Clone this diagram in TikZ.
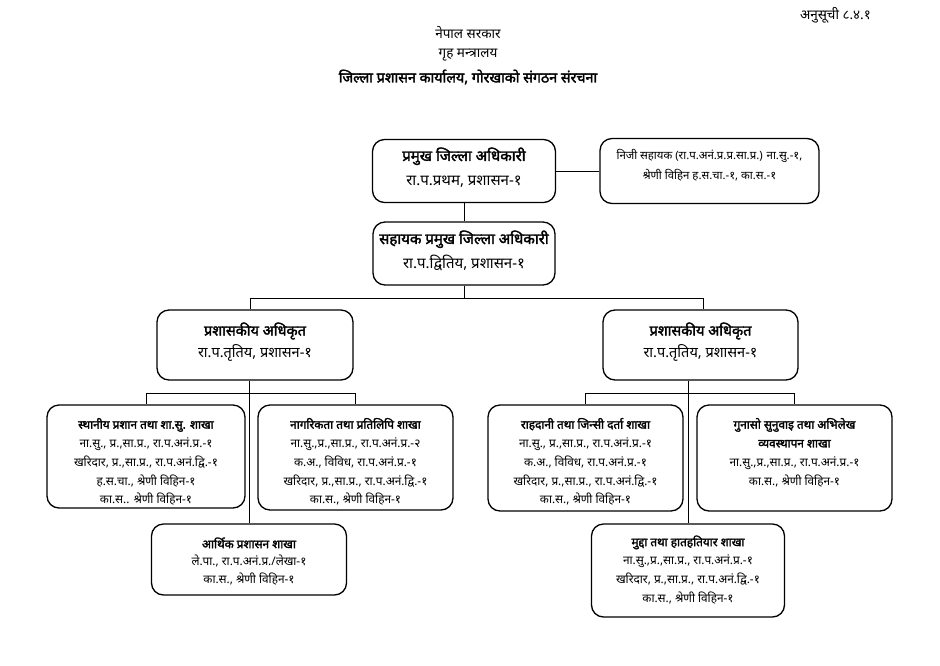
\documentclass[tikz,border=0pt]{standalone}
\usepackage{fontspec}
\newfontfamily\dev[Script=Devanagari, BoldFont=Noto Sans, BoldFeatures={FakeBold=2.2}]{Noto Sans}
\newcommand{\bb}[1]{{\bfseries #1}}
\begin{document}
\begin{tikzpicture}[x=1pt,y=-1pt,
  box/.style={draw, line width=1.3pt, rounded corners=12pt, inner sep=0pt},
  conn/.style={line width=0.9pt},
  txt/.style={anchor=north, align=center, inner sep=0pt},
  big/.style={font=\dev\fontsize{15}{25}\selectfont},
  mid/.style={font=\dev\fontsize{14.5}{22}\selectfont},
  sml/.style={font=\dev\fontsize{11.8}{18.8}\selectfont},
  hdr/.style={font=\dev\fontsize{13.5}{15}\selectfont, inner sep=0pt}]
\useasboundingbox (0,0) rectangle (940,665);
\fill[white] (0,0) rectangle (940,665);

% header
\node[hdr, anchor=east] (ann) at (871,15) {अनुसूची ८.४.१};
\node[hdr] (h1) at (468,33) {नेपाल सरकार};
\node[hdr] (h2) at (468,55) {गृह मन्त्रालय};
\node[hdr, font=\dev\bfseries\fontsize{14.3}{16}\selectfont] (h3) at (468,77) {जिल्ला प्रशासन कार्यालय, गोरखाको संगठन संरचना};

% boxes
\node[box, minimum width=183pt, minimum height=63pt] (pjo) at (464,171) {};
\node[box, minimum width=219pt, minimum height=65pt] (niji) at (709.5,171) {};
\node[box, minimum width=182pt, minimum height=63pt] (spjo) at (464,253.5) {};
\node[box, minimum width=196pt, minimum height=70pt] (pa1) at (255,345) {};
\node[box, minimum width=195pt, minimum height=70pt] (pa2) at (700.5,345) {};
\node[box, minimum width=198pt, minimum height=103pt] (sth) at (146,456.5) {};
\node[box, minimum width=195pt, minimum height=105pt] (nag) at (355.5,457.5) {};
\node[box, minimum width=195pt, minimum height=106pt] (rah) at (585.5,458) {};
\node[box, minimum width=195pt, minimum height=106pt] (gun) at (794.5,458) {};
\node[box, minimum width=195pt, minimum height=71pt] (art) at (249,559.5) {};
\node[box, minimum width=193pt, minimum height=93pt] (mud) at (688,570.5) {};

% texts
\node[txt, big] (pjot) at ([yshift=-8.5]pjo.north) {\bb{प्रमुख जिल्ला अधिकारी}\\रा.प.प्रथम, प्रशासन-१};
\node[txt, font=\dev\fontsize{11.4}{20}\selectfont] (nijit) at ([yshift=-11]niji.north) {निजी सहायक (रा.प.अनं.प्र.प्र.सा.प्र.) ना.सु.-१,\\श्रेणी विहिन ह.स.चा.-१, का.स.-१};
\node[txt, big] (spjot) at ([yshift=-9]spjo.north) {\bb{सहायक प्रमुख जिल्ला अधिकारी}\\रा.प.द्वितिय, प्रशासन-१};
\node[txt, mid] (pa1t) at ([yshift=-13]pa1.north) {\bb{प्रशासकीय अधिकृत}\\रा.प.तृतिय, प्रशासन-१};
\node[txt, mid] (pa2t) at ([yshift=-13]pa2.north) {\bb{प्रशासकीय अधिकृत}\\रा.प.तृतिय, प्रशासन-१};
\node[txt, sml] (stht) at ([yshift=-13.5]sth.north) {\bb{स्थानीय प्रशान तथा शा.सु. शाखा}\\ना.सु., प्र.,सा.प्र., रा.प.अनं.प्र.-१\\खरिदार, प्र.,सा.प्र., रा.प.अनं.द्वि.-१\\ह.स.चा., श्रेणी विहिन-१\\का.स.. श्रेणी विहिन-१};
\node[txt, sml] (nagt) at ([yshift=-13.5]nag.north) {\bb{नागरिकता तथा प्रतिलिपि शाखा}\\ना.सु.,प्र.,सा.प्र., रा.प.अनं.प्र.-२\\क.अ., विविध, रा.प.अनं.प्र.-१\\खरिदार, प्र.,सा.प्र., रा.प.अनं.द्वि.-१\\का.स., श्रेणी विहिन-१};
\node[txt, sml] (raht) at ([yshift=-13.5]rah.north) {\bb{राहदानी तथा जिन्सी दर्ता शाखा}\\ना.सु., प्र.,सा.प्र., रा.प.अनं.प्र.-१\\क.अ., विविध, रा.प.अनं.प्र.-१\\खरिदार, प्र.,सा.प्र., रा.प.अनं.द्वि.-१\\का.स., श्रेणी विहिन-१};
\node[txt, sml] (gunt) at ([yshift=-13.5]gun.north) {\bb{गुनासो सुनुवाइ तथा अभिलेख}\\\bb{व्यवस्थापन शाखा}\\ना.सु.,प्र.,सा.प्र., रा.प.अनं.प्र.-१\\का.स., श्रेणी विहिन-१};
\node[txt, font=\dev\fontsize{11.8}{17.8}\selectfont] (artt) at ([yshift=-14]art.north) {\bb{आर्थिक प्रशासन शाखा}\\ले.पा., रा.प.अनं.प्र./लेखा-१\\का.स., श्रेणी विहिन-१};
\node[txt, sml] (mudt) at ([yshift=-12]mud.north) {\bb{मुद्दा तथा हातहतियार शाखा}\\ना.सु.,प्र.,सा.प्र., रा.प.अनं.प्र.-१\\खरिदार, प्र.,सा.प्र., रा.प.अनं.द्वि.-१\\का.स., श्रेणी विहिन-१};

% junction coordinates
\coordinate (jL) at (250,298);
\coordinate (jR) at (703,298);
\coordinate (kL) at (146,393);
\coordinate (kR) at (355.5,393);
\coordinate (mL) at (585.5,393);
\coordinate (mR) at (794.5,393);
\coordinate (pL) at (249,380);
\coordinate (pR) at (688,380);

% connectors
\draw[conn] (pjo.south) -- (spjo.north);
\draw[conn] (pjo.east) -- (niji.west);
\draw[conn] (spjo.south) -- (spjo.south |- jL);
\draw[conn] (jL) -- (jR);
\draw[conn] (jL) -- (jL |- pa1.north);
\draw[conn] (jR) -- (jR |- pa2.north);
\draw[conn] (pL |- pa1.south) -- (art.north);
\draw[conn] (kL) -- (kR);
\draw[conn] (kL) -- (sth.north);
\draw[conn] (kR) -- (nag.north);
\draw[conn] (pR |- pa2.south) -- (mud.north);
\draw[conn] (mL) -- (mR);
\draw[conn] (mL) -- (rah.north);
\draw[conn] (mR) -- (gun.north);
\end{tikzpicture}
\end{document}
